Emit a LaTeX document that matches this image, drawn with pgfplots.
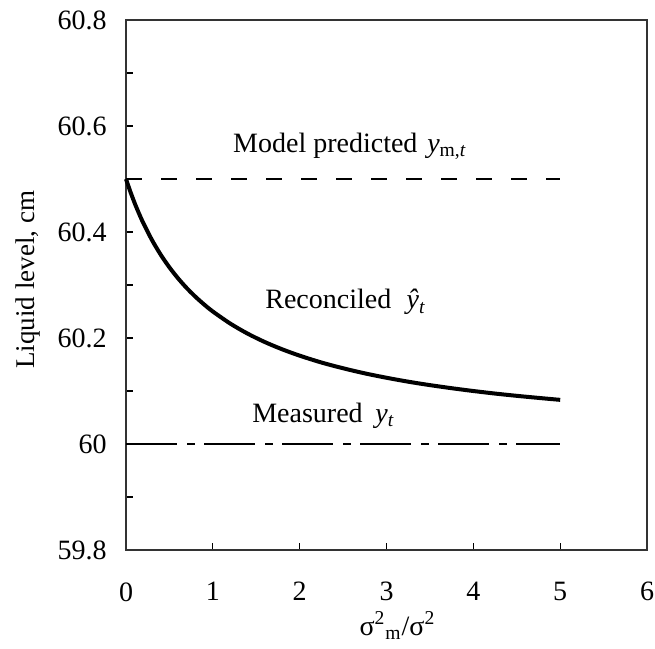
\documentclass[border=0pt]{standalone}
\usepackage{fontspec}
\setmainfont{Liberation Serif}
\usepackage{pgfplots}
\pgfplotsset{compat=1.18}
\begin{document}
\begin{tikzpicture}
\begin{axis}[name=ax,
  scale only axis, width=260.5pt, height=265pt,
  xmin=0, xmax=6, ymin=59.8, ymax=60.8,
  xtick={0,1,2,3,4,5,6},
  xticklabels={0,1,2,3,4,5,6},
  ytick={59.8,60,60.2,60.4,60.6,60.8},
  yticklabels={59.8,60,60.2,60.4,60.6,60.8},
  minor ytick={59.9,60.1,60.3,60.5,60.7},
  tick align=inside, xtick pos=bottom, ytick pos=left,
  major tick length=3.5pt, minor tick length=3.5pt,
  every tick/.style={black, line width=0.6pt},
  axis line style={line width=0.8pt, black!80},
  /pgf/number format/assume math mode=true,
  ticklabel style={font=\fontsize{14}{16}\selectfont},
  yticklabel style={anchor=east, inner sep=0pt, xshift=-9.5pt},
  xticklabel style={anchor=north, inner sep=0pt, yshift=-16pt},
  clip=false,
]
\addplot[black, line width=0.6pt, dash pattern=on 8pt off 9.5pt] coordinates {(0,60.5) (5,60.5)};
\addplot[black, line width=0.8pt, dash pattern=on 25.5pt off 5pt on 4pt off 4.5pt] coordinates {(0,60) (5,60)};
\addplot[black, line width=2pt, smooth] coordinates {
(0,60.5) (0.05,60.4762) (0.1,60.4545) (0.15,60.4348) (0.2,60.4167) (0.3,60.3846) (0.4,60.3571) (0.5,60.3333)
(0.6,60.3125) (0.7,60.2941) (0.8,60.2778) (0.9,60.2632) (1.0,60.25) (1.2,60.2273) (1.4,60.2083)
(1.6,60.1923) (1.8,60.1786) (2.0,60.1667) (2.25,60.1538) (2.5,60.1429) (2.75,60.1333) (3.0,60.125)
(3.25,60.1176) (3.5,60.1111) (3.75,60.1053) (4.0,60.1) (4.25,60.0952) (4.5,60.0909) (4.75,60.0870) (5.0,60.0833)
};
\node[anchor=base west, inner sep=0pt, font=\fontsize{14}{16}\selectfont] at (axis cs:1.23,60.55)
  {Model predicted\hspace{0.35em}\textit{y}\textsubscript{m,\textit{t}}};
\node[anchor=base west, inner sep=0pt, font=\fontsize{14}{16}\selectfont] at (axis cs:1.60,60.255)
  {Reconciled\hspace{0.55em}\textit{ŷ}\textsubscript{\textit{t}}};
\node[anchor=base west, inner sep=0pt, font=\fontsize{14}{16}\selectfont] at (axis cs:1.45,60.041)
  {Measured\hspace{0.45em}\textit{y}\textsubscript{\textit{t}}};
\node[anchor=base, inner sep=0pt, font=\fontsize{14}{16}\selectfont] at ([yshift=-42.5pt]axis description cs:0.521,0)
  {σ\textsuperscript{2}\textsubscript{m}/σ\textsuperscript{2}};
\node[rotate=90, anchor=base, inner sep=0pt, font=\fontsize{13.5}{16}\selectfont] at ([xshift=-45.5pt]axis description cs:0,0.51)
  {Liquid level, cm};
\end{axis}
\path ([xshift=-63pt,yshift=-49pt]ax.south west) rectangle ([xshift=4pt,yshift=10pt]ax.north east);
\end{tikzpicture}
\end{document}
